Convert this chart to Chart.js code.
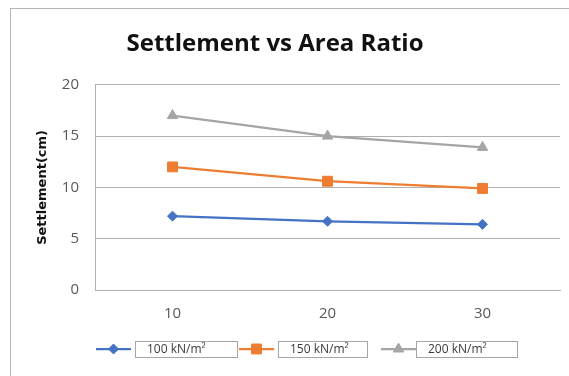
<!DOCTYPE html>
<html>
<head>
<meta charset="utf-8">
<script src="https://cdn.jsdelivr.net/npm/chart.js@4/dist/chart.umd.min.js"></script>
<style>
  html, body { margin: 0; padding: 0; background: #fff; overflow: hidden; }
  #wrap { position: relative; width: 569px; height: 376px; }
  #frame { position: absolute; left: 10px; top: 8px; width: 700px; height: 500px; border: 1px solid #b4b4b4; }
  canvas { position: absolute; left: 0; top: 0; }
</style>
</head>
<body>
<div id="wrap">
  <div id="frame"></div>
  <canvas id="c" width="569" height="376"></canvas>
</div>
<script>
// Area ratio categories and settlement (cm) for each applied pressure
const areaRatio = ['10', '20', '30'];
const settle100 = [7.2, 6.7, 6.4];
const settle150 = [12.0, 10.6, 9.9];
const settle200 = [17.0, 15.0, 13.9];
const seriesNames = ['100 kN/m²', '150 kN/m²', '200 kN/m²'];
const yTicks = [0, 5, 10, 15, 20];

const GRID = '#b0b0b0';
const TICK = '#595959';

// Boxed legend drawn beneath the x axis: line + marker, then label inside a frame
const boxedLegend = {
  id: 'boxedLegend',
  afterDraw(chart, args, opts) {
    const ctx = chart.ctx;
    const y = opts.y;
    ctx.save();
    chart.data.datasets.forEach((ds, i) => {
      const lx = opts.lineX[i];
      const bx = opts.boxX[i];
      const bw = opts.boxW[i];
      ctx.strokeStyle = ds.borderColor;
      ctx.lineWidth = ds.borderWidth;
      ctx.beginPath();
      ctx.moveTo(lx, y);
      ctx.lineTo(lx + opts.lineLen, y);
      ctx.stroke();
      ctx.fillStyle = ds.pointBackgroundColor;
      ctx.strokeStyle = ds.pointBorderColor;
      ctx.lineWidth = 1;
      Chart.helpers.drawPoint(ctx, {
        pointStyle: ds.pointStyle,
        radius: ds.pointRadius,
        rotation: 0,
        borderWidth: 1
      }, lx + opts.lineLen / 2, y);
      ctx.strokeStyle = opts.boxColor;
      ctx.lineWidth = 1;
      ctx.strokeRect(bx + 0.5, y - opts.boxH / 2 + 0.5, bw, opts.boxH);
      ctx.fillStyle = opts.textColor;
      ctx.font = opts.font;
      ctx.textBaseline = 'middle';
      ctx.textAlign = 'left';
      ctx.fillText(ds.label, bx + opts.textInset, y + 1);
    });
    ctx.restore();
  }
};

const colors = ['#4472C4', '#ED7D31', '#A5A5A5'];
const styles = ['rectRot', 'rect', 'triangle'];
const radii = [5, 7, 6];
const values = [settle100, settle150, settle200];

new Chart(document.getElementById('c'), {
  type: 'line',
  data: {
    labels: areaRatio,
    datasets: values.map((v, i) => ({
      label: seriesNames[i],
      data: v,
      borderColor: colors[i],
      backgroundColor: colors[i],
      pointBackgroundColor: colors[i],
      pointBorderColor: colors[i],
      pointStyle: styles[i],
      pointRadius: radii[i],
      pointBorderWidth: 1,
      borderWidth: 2.25,
      tension: 0,
      fill: false
    }))
  },
  options: {
    responsive: false,
    animation: false,
    layout: { padding: { left: -10, right: 9, top: 0, bottom: 46 } },
    plugins: {
      legend: { display: false },
      tooltip: { enabled: false },
      title: {
        display: true,
        text: 'Settlement vs Area Ratio',
        color: '#111',
        font: { family: 'Open Sans', size: 24, weight: 'bold' },
        padding: { top: 30, bottom: 26 }
      },
      boxedLegend: {
        y: 349,
        lineX: [96, 239, 381],
        lineLen: 35,
        boxX: [135, 278, 416],
        boxW: [102, 89, 101],
        boxH: 16,
        textInset: 12,
        boxColor: '#a6a6a6',
        textColor: '#3a3a3a',
        font: '12px "Open Sans"'
      }
    },
    scales: {
      x: {
        type: 'category',
        offset: true,
        grid: { display: false, drawTicks: false },
        border: { display: true, color: GRID, width: 1 },
        ticks: { color: TICK, font: { family: 'Open Sans', size: 15 }, padding: 15 },
        afterFit(s) { s.height = 40; }
      },
      y: {
        min: 0,
        max: 20,
        afterBuildTicks(s) { s.ticks = yTicks.map(v => ({ value: v })); },
        grid: { color: GRID, drawTicks: false, lineWidth: 1 },
        border: { display: true, color: GRID, width: 1 },
        ticks: { color: TICK, font: { family: 'Open Sans', size: 15 }, padding: 16 },
        title: {
          display: true,
          text: 'Settlement(cm)',
          color: '#111',
          font: { family: 'DejaVu Sans', size: 13, weight: 'bold' },
          padding: { top: 45, bottom: 0 }
        },
        afterFit(s) { s.width = 105; }
      }
    }
  },
  plugins: [boxedLegend]
});
</script>
</body>
</html>
